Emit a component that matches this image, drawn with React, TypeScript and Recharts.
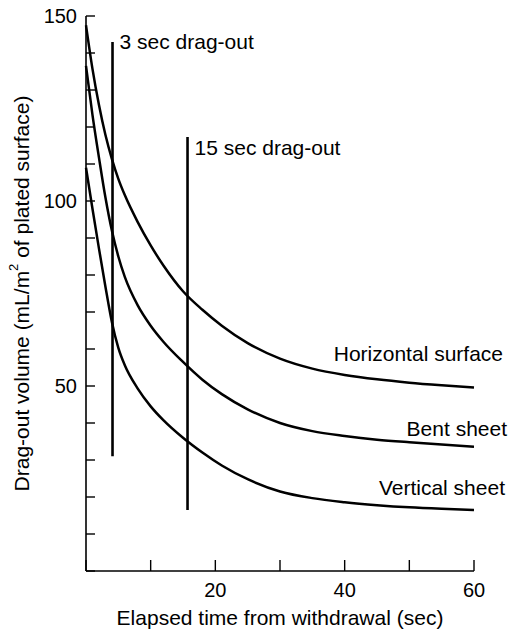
import { FC } from "react";
import {
  LabelList,
  Line,
  LineChart,
  ReferenceLine,
  XAxis,
  YAxis,
} from "recharts";

const FONT = "'Liberation Sans', Arial, Helvetica, sans-serif";

// elapsed time (sec)
const times = [0, 1, 2, 3, 4, 5, 6, 8, 10, 12, 15, 18, 21, 25, 30, 35, 40, 45, 50, 55, 60];
// drag-out volume (mL/m2)
const horizontal = [147.5, 135.7, 126.0, 117.9, 111.4, 106.0, 101.6, 94.3, 88.0, 82.5, 75.6, 70.6, 66.3, 61.6, 57.4, 54.7, 53.0, 51.8, 50.9, 50.2, 49.6];
const bent = [136.5, 123.3, 111.8, 101.0, 92.0, 85.0, 79.5, 71.8, 66.3, 61.9, 56.5, 51.7, 47.8, 43.7, 40.0, 37.8, 36.5, 35.5, 34.8, 34.2, 33.6];
const vertical = [109.0, 97.9, 87.2, 76.9, 67.3, 60.3, 55.6, 49.3, 44.5, 40.7, 36.0, 32.0, 28.5, 24.8, 21.5, 19.7, 18.6, 17.8, 17.2, 16.8, 16.5];

const xTicks = [0, 10, 20, 30, 40, 50, 60];
const yTicks = [0, 10, 20, 30, 40, 50, 60, 70, 80, 90, 100, 110, 120, 130, 140, 150];

// vertical drag-out markers: [x, yFrom, yTo]
const dragOut3 = [4.1, 31, 143];
const dragOut15 = [15.7, 16.5, 117.3];

const data = times.map((t, i) => ({
  t,
  horizontal: horizontal[i],
  bent: bent[i],
  vertical: vertical[i],
}));

const endLabel =
  (text: string, dx: number, dy: number) =>
  (props: any) => {
    const { x, y, index } = props;
    if (index !== times.length - 1) return null;
    return (
      <text
        x={x + dx}
        y={y + dy}
        textAnchor="end"
        dominantBaseline="central"
        fontSize={21}
        fontFamily={FONT}
        fill="#000"
      >
        {text}
      </text>
    );
  };

const markerLabel =
  (text: string, dy: number) =>
  (props: any) => {
    const vb = props.viewBox || {};
    return (
      <text
        x={vb.x + 7}
        y={vb.y + dy}
        dominantBaseline="central"
        fontSize={21}
        fontFamily={FONT}
        fill="#000"
      >
        {text}
      </text>
    );
  };

const YLabel: FC<any> = ({ viewBox }) => {
  const cx = viewBox.x + 21;
  const cy = viewBox.y + viewBox.height / 2;
  return (
    <text
      x={cx}
      y={cy}
      transform={`rotate(-90, ${cx}, ${cy})`}
      textAnchor="middle"
      dominantBaseline="central"
      fontSize={21}
      fontFamily={FONT}
      fill="#000"
    >
      Drag-out volume (mL/m
      <tspan fontSize={13} dy={-8}>
        2
      </tspan>
      <tspan dy={8}> of plated surface)</tspan>
    </text>
  );
};

const XLabel: FC<any> = ({ viewBox }) => (
  <text
    x={viewBox.x + viewBox.width / 2}
    y={viewBox.y + 46}
    textAnchor="middle"
    dominantBaseline="central"
    fontSize={21}
    fontFamily={FONT}
    fill="#000"
  >
    Elapsed time from withdrawal (sec)
  </text>
);

const tickStyle = { fill: "#000", fontSize: 20, fontFamily: FONT };

const DragOut: FC = () => {
  return (
    <div style={{ position: "absolute", left: 0, top: 0 }}>
      <LineChart
        width={509}
        height={629}
        data={data}
        margin={{ top: 16, right: 35, left: 0, bottom: 0 }}
      >
        <XAxis
          dataKey="t"
          type="number"
          domain={[0, 60]}
          ticks={xTicks}
          tickFormatter={(v: number) => (v > 0 && v % 20 === 0 ? String(v) : "")}
          height={58}
          tickSize={-11}
          tickMargin={23}
          tick={tickStyle}
          axisLine={{ stroke: "#000", strokeWidth: 1.6 }}
          tickLine={{ stroke: "#000", strokeWidth: 1.4 }}
          label={<XLabel />}
        />
        <YAxis
          type="number"
          domain={[0, 150]}
          ticks={yTicks}
          tickFormatter={(v: number) => (v > 0 && v % 50 === 0 ? String(v) : "")}
          width={86}
          tickSize={-9}
          tickMargin={18}
          tick={tickStyle}
          axisLine={{ stroke: "#000", strokeWidth: 1.6 }}
          tickLine={{ stroke: "#000", strokeWidth: 1.4 }}
          label={<YLabel />}
        />
        <ReferenceLine
          segment={[
            { x: dragOut3[0], y: dragOut3[1] },
            { x: dragOut3[0], y: dragOut3[2] },
          ]}
          stroke="#000"
          strokeWidth={2.6}
          label={markerLabel("3 sec drag-out", 0)}
        />
        <ReferenceLine
          segment={[
            { x: dragOut15[0], y: dragOut15[1] },
            { x: dragOut15[0], y: dragOut15[2] },
          ]}
          stroke="#000"
          strokeWidth={2.6}
          label={markerLabel("15 sec drag-out", 11)}
        />
        <Line
          type="monotone"
          dataKey="horizontal"
          stroke="#000"
          strokeWidth={2.5}
          dot={false}
          isAnimationActive={false}
        >
          <LabelList content={endLabel("Horizontal surface", 29, -34)} />
        </Line>
        <Line
          type="monotone"
          dataKey="bent"
          stroke="#000"
          strokeWidth={2.5}
          dot={false}
          isAnimationActive={false}
        >
          <LabelList content={endLabel("Bent sheet", 33, -18)} />
        </Line>
        <Line
          type="monotone"
          dataKey="vertical"
          stroke="#000"
          strokeWidth={2.5}
          dot={false}
          isAnimationActive={false}
        >
          <LabelList content={endLabel("Vertical sheet", 31, -22)} />
        </Line>
      </LineChart>
    </div>
  );
};

export default function App() {
  return <DragOut />;
}
